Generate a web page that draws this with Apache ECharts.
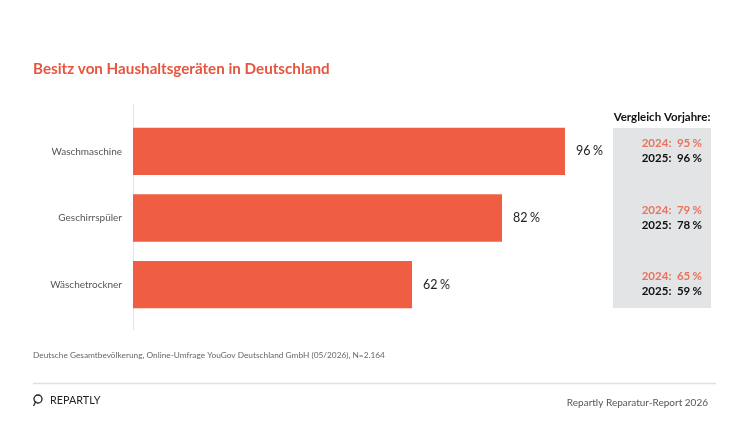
<!DOCTYPE html>
<html>
<head>
<meta charset="utf-8">
<script src="https://cdn.jsdelivr.net/npm/echarts@6/dist/echarts.min.js"></script>
<style>
  html, body { margin: 0; padding: 0; background: #fff; }
  #chart { width: 750px; height: 422px; }
</style>
</head>
<body>
<div id="chart"></div>
<script>
var categories = ['Waschmaschine', 'Geschirrspüler', 'Wäschetrockner'];
var values = [96, 82, 62];
var prev2024 = [95, 79, 65];
var prev2025 = [96, 78, 59];

var red = '#EF5E42';
var font = 'Lato';

var chart = echarts.init(document.getElementById('chart'));

chart.setOption({
    backgroundColor: '#fff',
    animation: false,
    grid: { left: 133, top: 118, width: 450, height: 200, containLabel: false },
    xAxis: {
        type: 'value', min: 0, max: 100, show: false
    },
    yAxis: {
        type: 'category',
        data: categories,
        inverse: true,
        axisLine: { show: false },
        axisTick: { show: false },
        axisLabel: { color: '#555', fontFamily: font, fontSize: 10, margin: 11 }
    },
    series: [{
        type: 'bar',
        data: values,
        barCategoryGap: '29%',
        itemStyle: { color: red },
        label: {
            show: true, position: 'right', distance: 11,
            formatter: function (p) { return '{n|' + p.value + '}{s| }{n|%}'; },
            rich: {
                n: { color: '#222', fontFamily: font, fontSize: 12.5 },
                s: { fontFamily: font, fontSize: 10 }
            }
        }
    }],
    graphic: [
        { type: 'text', left: 33, top: 62,
          style: { text: 'Besitz von Haushaltsgeräten in Deutschland', fill: '#E8553F',
                   font: 'bold 15.2px Lato' } },
        { type: 'line', shape: { x1: 133.5, y1: 104, x2: 133.5, y2: 330 },
          style: { stroke: '#e4e4e4', lineWidth: 1 } },
        { type: 'rect', shape: { x: 613, y: 128, width: 98, height: 180 },
          style: { fill: '#e3e4e6' } },
        { type: 'text', x: 662, y: 117,
          style: { text: 'Vergleich Vorjahre:', fill: '#111', font: 'bold 11.5px Lato',
                   align: 'center', verticalAlign: 'middle' } },
        { type: 'text', left: 33, top: 351,
          style: { text: 'Deutsche Gesamtbevölkerung, Online-Umfrage YouGov Deutschland GmbH (05/2026), N=2.164',
                   fill: '#666', font: '8.3px Lato' } },
        { type: 'line', shape: { x1: 33, y1: 383.5, x2: 716, y2: 383.5 },
          style: { stroke: '#e0e0e0', lineWidth: 1.5 } },
        { type: 'circle', shape: { cx: 38, cy: 399, r: 4 },
          style: { fill: 'none', stroke: '#222', lineWidth: 1.3 } },
        { type: 'line', shape: { x1: 36, y1: 401, x2: 33.5, y2: 406 },
          style: { stroke: '#222', lineWidth: 1.3 } },
        { type: 'text', left: 50, top: 395,
          style: { text: 'REPARTLY', fill: '#222', font: '10.8px Lato' } },
        { type: 'text', x: 708, y: 403,
          style: { text: 'Repartly Reparatur-Report 2026', fill: '#555', font: '10px Lato',
                   align: 'right', verticalAlign: 'middle' } }
    ]
});

// comparison box texts placed at each category's position
function boxText(year, v, color) {
    return {
        text: '{t|' + year + ':  ' + v + '}{s| }{t|%}',
        align: 'right', verticalAlign: 'middle',
        rich: {
            t: { fill: color, font: 'bold 11.5px Lato' },
            s: { font: '9px Lato' }
        }
    };
}
var extra = [];
categories.forEach(function (c, i) {
    var y = chart.convertToPixel({ yAxisIndex: 0 }, c);
    extra.push({ type: 'text', x: 702, y: y - 8, style: boxText(2024, prev2024[i], '#E8735E') });
    extra.push({ type: 'text', x: 702, y: y + 7, style: boxText(2025, prev2025[i], '#111') });
});
var opt = chart.getOption();
chart.setOption({ graphic: opt.graphic[0].elements.concat(extra) });
</script>
</body>
</html>
